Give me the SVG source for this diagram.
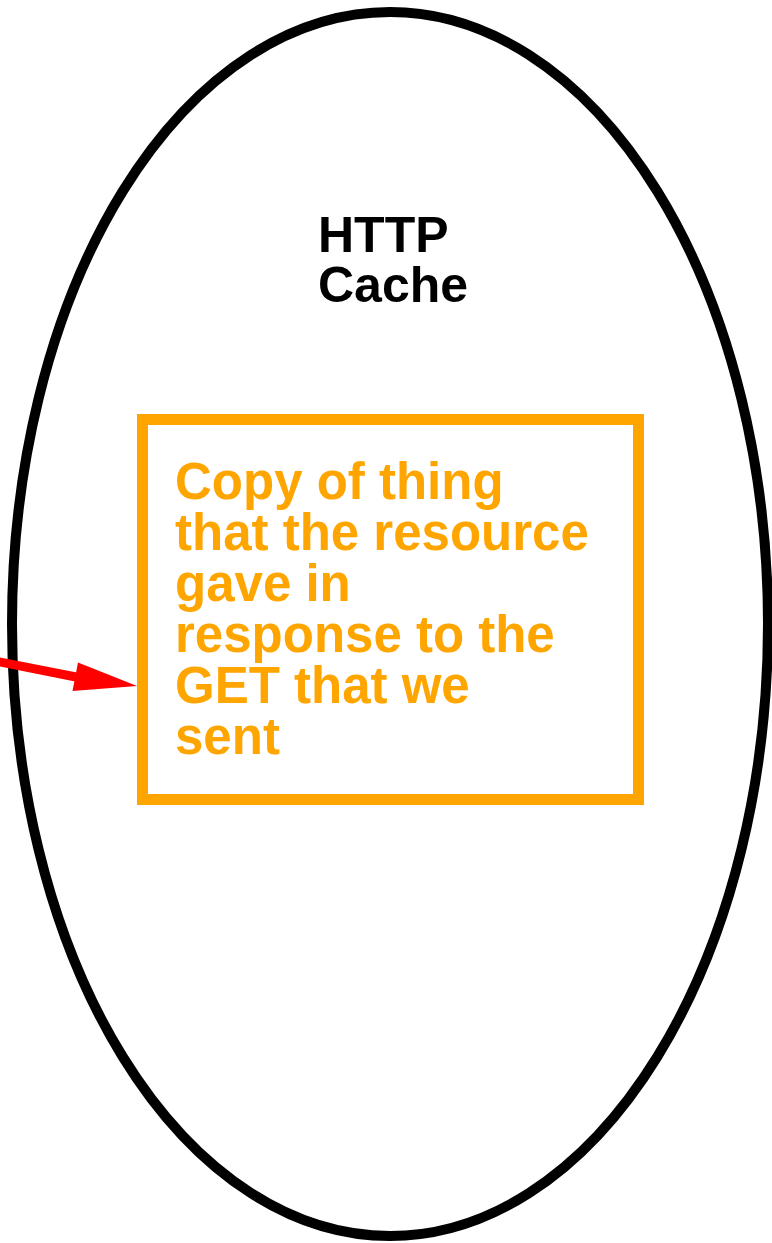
<svg xmlns="http://www.w3.org/2000/svg" width="772" height="1243" viewBox="0 0 772 1243">
  <style>
    .cluster { fill: none; stroke: #000000; stroke-width: 10; }
    .cluster-label { font-family: "Liberation Sans", Arial, sans-serif; font-weight: bold; font-size: 50px; fill: #000000; }
    .box { fill: none; stroke: #FFA500; stroke-width: 11; }
    .box-label { font-family: "Liberation Sans", Arial, sans-serif; font-weight: bold; font-size: 51px; fill: #FFA500; }
    .edge { fill: none; stroke: #FF0000; stroke-width: 9; }
    .edge-head { fill: #FF0000; stroke: none; }
  </style>
  <rect width="772" height="1243" fill="#FFFFFF"/>

  <!-- HTTP cache container -->
  <g id="http-cache">
    <ellipse class="cluster" cx="390" cy="624" rx="378" ry="612"/>
    <text class="cluster-label" x="318">
      <tspan x="318" y="252">HTTP</tspan>
      <tspan x="318" y="302">Cache</tspan>
    </text>
  </g>

  <!-- cached copy -->
  <g id="cached-copy">
    <rect class="box" x="142.5" y="419.5" width="496" height="380"/>
    <text class="box-label">
      <tspan x="175" y="499">Copy of thing</tspan>
      <tspan x="175" y="550">that the resource</tspan>
      <tspan x="175" y="601">gave in</tspan>
      <tspan x="175" y="652">response to the</tspan>
      <tspan x="175" y="703">GET that we</tspan>
      <tspan x="175" y="754">sent</tspan>
    </text>
  </g>

  <!-- connectors -->
  <g id="connectors">
    <path class="edge" d="M -10 660 Q 40 670 76 677"/>
    <polygon class="edge-head" points="78,662.5 72.5,691 137,686"/>
  </g>
</svg>
